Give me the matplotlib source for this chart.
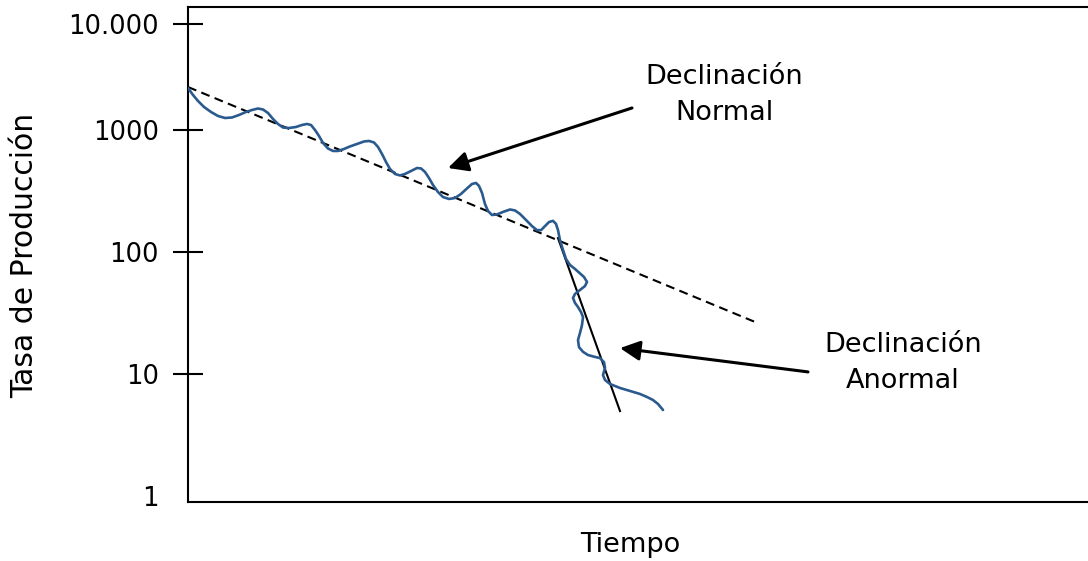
import matplotlib
matplotlib.use("Agg")
import matplotlib.pyplot as plt

# production curve (time in arbitrary units, rate on log scale)
tiempo = [0, 5, 10, 16, 23, 30, 37, 44, 51, 58, 64, 70, 75, 80, 85, 90, 95, 101,
          108, 114, 119, 123, 127, 131, 135, 140, 145, 150, 156, 162, 169, 176,
          181, 186, 190, 194, 198, 202, 207, 212, 217, 223, 229, 233, 237, 241,
          245, 250, 255, 261, 267, 273, 279, 284, 288, 291, 294, 297, 300, 304,
          309, 315, 322, 327, 332, 338, 344, 349, 353, 357, 361, 365, 368, 370,
          372, 375, 378, 382, 387, 396, 399, 397, 392, 387, 385, 387, 390, 393,
          395, 394, 392, 390, 391, 395, 400, 407, 412, 416, 417, 415, 417, 422,
          432, 442, 452, 459, 465, 470, 475]
tasa = [2210, 1936, 1729, 1544, 1405, 1302, 1254, 1266, 1327, 1405, 1458, 1500,
        1472, 1378, 1231, 1120, 1048, 1038, 1058, 1099, 1120, 1099, 1000, 893,
        783, 705, 673, 673, 699, 733, 768, 805, 813, 790, 726, 636, 547, 479,
        436, 424, 436, 461, 488, 484, 453, 404, 354, 310, 282, 272, 277, 299,
        332, 361, 368, 348, 305, 247, 217, 201, 203, 213, 223, 219, 205, 183,
        163, 151, 151, 163, 176, 180, 170, 151, 125, 104, 87.6, 78.3, 72.6,
        62.4, 56.8, 52.6, 48.8, 45.3, 42.0, 38.2, 35.4, 32.2, 29.3, 25.2, 21.7,
        19.0, 16.6, 15.2, 14.3, 13.8, 13.5, 12.5, 11.2, 9.81, 8.93, 8.28, 7.68,
        7.26, 6.86, 6.48, 6.12, 5.68, 5.07]

# trend lines
normal_t = [0, 567]
normal_q = [2250, 26.7]
anormal_t = [370, 432]
anormal_q = [130, 4.97]

# arrows: (tail, head)
flecha_normal = ((444, 1515), (260, 488))
flecha_anormal = ((620, 10.4), (432, 16.3))

ytick_vals = [1, 10, 100, 1000, 7400]
ytick_labels = ["1", "10", "100", "1000", "10.000"]

plt.rcParams['font.family'] = ['DejaVu Sans']

fig = plt.figure(figsize=(10.88, 5.61), dpi=100)
ax = fig.add_axes([188 / 1088, 59 / 561, 900 / 1088, 495 / 561])

ax.plot(tiempo, tasa, color='#2A5A8E', lw=1.9, solid_joinstyle='round',
        solid_capstyle='round', zorder=3)
ax.plot(normal_t, normal_q, color='black', lw=1.5, dashes=(4.3, 2.6), zorder=2)
ax.plot(anormal_t, anormal_q, color='black', lw=1.5, zorder=2)

for tail, head in (flecha_normal, flecha_anormal):
    ax.annotate('', xy=head, xytext=tail,
                arrowprops=dict(arrowstyle='-|>', color='black', lw=2.2,
                                mutation_scale=30, shrinkA=0, shrinkB=0))

ax.text(536, 1950, "Declinación\nNormal", ha='center', va='center',
        fontsize=19.5, linespacing=1.5)
ax.text(715, 12.2, "Declinación\nAnormal", ha='center', va='center',
        fontsize=19.5, linespacing=1.5)

ax.set_yscale('log')
ax.set_xlim(0, 900)
ax.set_ylim(0.893, 10186)
ax.set_xticks([])
ax.set_yticks(ytick_vals)
ax.set_yticklabels(ytick_labels)
ax.yaxis.set_minor_locator(matplotlib.ticker.NullLocator())
ax.tick_params(axis='y', direction='inout', length=22, width=1.5,
               labelsize=18.5, pad=10)
ax.yaxis.get_major_ticks()[0].tick1line.set_visible(False)

ax.spines['right'].set_visible(False)
for s in ('left', 'top', 'bottom'):
    ax.spines[s].set_linewidth(1.5)

fig.text(25 / 1088, 1 - 255 / 561, "Tasa de Producción", rotation=90,
         ha='center', va='center', fontsize=21.5)
fig.text(630 / 1088, 1 - 545 / 561, "Tiempo", ha='center', va='center',
         fontsize=19.5)

fig.savefig("out.png", dpi=100)
